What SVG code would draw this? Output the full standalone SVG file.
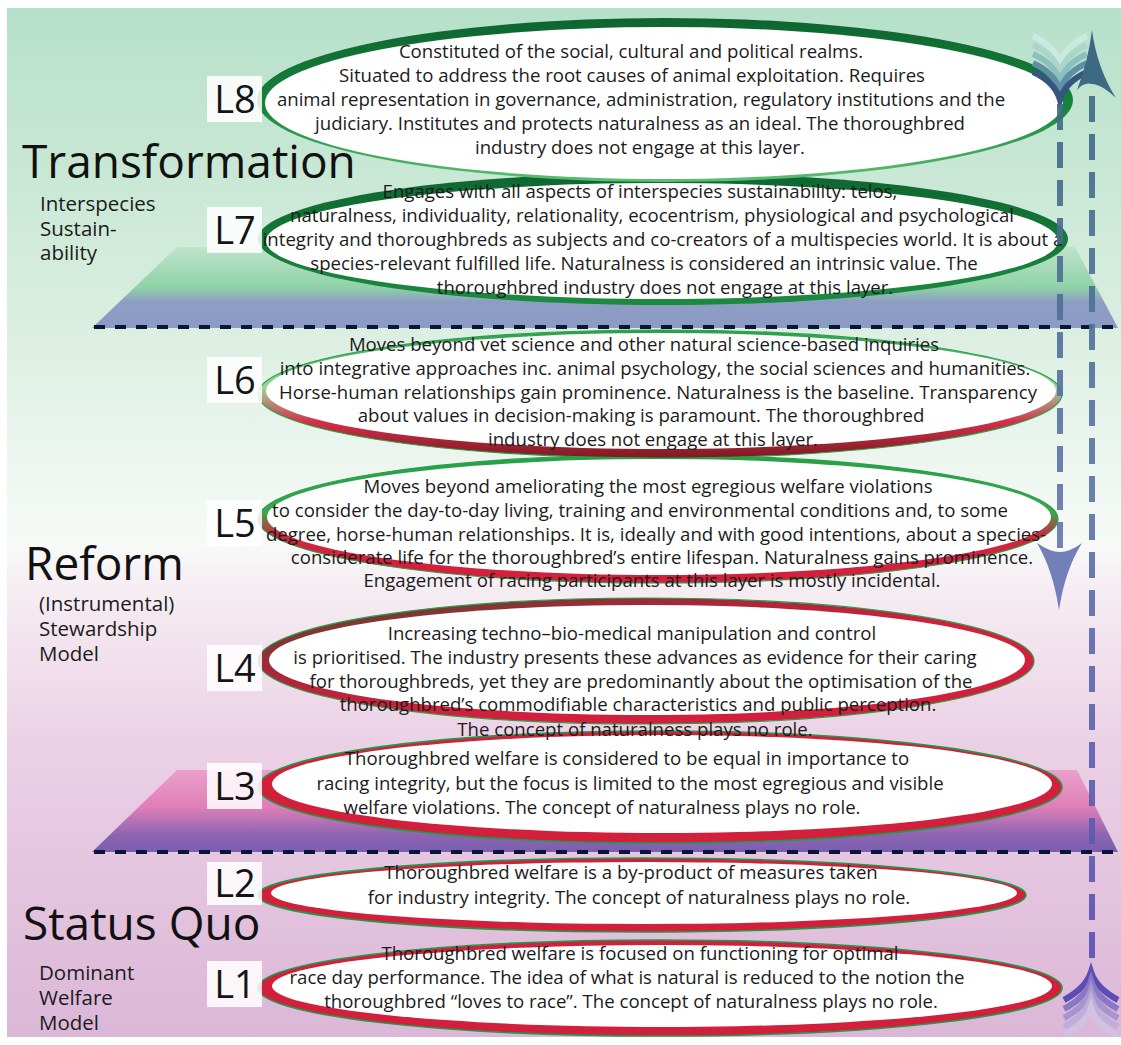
<svg xmlns="http://www.w3.org/2000/svg" width="1121" height="1045" viewBox="0 0 1121 1045">
  <defs>
    <linearGradient id="bg" x1="0" y1="8" x2="0" y2="1037" gradientUnits="userSpaceOnUse">
      <stop offset="0" stop-color="#b6e0c9"/>
      <stop offset="0.3" stop-color="#d9eee0"/>
      <stop offset="0.52" stop-color="#f7faf7"/>
      <stop offset="0.56" stop-color="#f6eef3"/>
      <stop offset="0.72" stop-color="#ebd0e5"/>
      <stop offset="1" stop-color="#dbb7d7"/>
    </linearGradient>
    <linearGradient id="platTop" x1="0" y1="247" x2="0" y2="328" gradientUnits="userSpaceOnUse">
      <stop offset="0" stop-color="#bfe3cc"/>
      <stop offset="0.5" stop-color="#8fd2a7"/>
      <stop offset="0.68" stop-color="#8d9dc4"/>
      <stop offset="1" stop-color="#8c9bc4"/>
    </linearGradient>
    <linearGradient id="platBot" x1="0" y1="770" x2="0" y2="852" gradientUnits="userSpaceOnUse">
      <stop offset="0" stop-color="#eaa0cb"/>
      <stop offset="0.45" stop-color="#e07fb8"/>
      <stop offset="0.8" stop-color="#8c64b2"/>
      <stop offset="1" stop-color="#7a5fb0"/>
    </linearGradient>
    <linearGradient id="gL8" x1="0" y1="0" x2="0" y2="1">
      <stop offset="0" stop-color="#0e6430"/>
      <stop offset="0.55" stop-color="#17843c"/>
      <stop offset="1" stop-color="#5cbf73"/>
    </linearGradient>
    <linearGradient id="gL7" x1="0" y1="0" x2="0" y2="1">
      <stop offset="0" stop-color="#0f6631"/>
      <stop offset="1" stop-color="#1b8a40"/>
    </linearGradient>
    <linearGradient id="gL6" x1="0" y1="0" x2="0" y2="1">
      <stop offset="0" stop-color="#2a9d48"/>
      <stop offset="0.45" stop-color="#9cd59c"/>
      <stop offset="0.72" stop-color="#d2304a"/>
      <stop offset="1" stop-color="#7c1a22"/>
    </linearGradient>
    <linearGradient id="gL5" x1="0" y1="0" x2="0" y2="1">
      <stop offset="0" stop-color="#26a046"/>
      <stop offset="0.45" stop-color="#3aa64c"/>
      <stop offset="0.62" stop-color="#d2263f"/>
      <stop offset="1" stop-color="#d21f3c"/>
    </linearGradient>
    <linearGradient id="gL4" x1="0" y1="0" x2="1" y2="1">
      <stop offset="0" stop-color="#4f4a2c"/>
      <stop offset="0.3" stop-color="#a5283a"/>
      <stop offset="0.55" stop-color="#d21f3c"/>
      <stop offset="1" stop-color="#d21f3c"/>
    </linearGradient>
    <linearGradient id="upLine" x1="0" y1="95" x2="0" y2="965" gradientUnits="userSpaceOnUse">
      <stop offset="0" stop-color="#3f6b84"/>
      <stop offset="0.45" stop-color="#5b75a6"/>
      <stop offset="1" stop-color="#5b4fb5"/>
    </linearGradient>
    <linearGradient id="downLine" x1="0" y1="100" x2="0" y2="610" gradientUnits="userSpaceOnUse">
      <stop offset="0" stop-color="#3d6a82"/>
      <stop offset="1" stop-color="#6a78b4"/>
    </linearGradient>
    <style>
      .t { font-family: "Open Sans", "Noto Sans", sans-serif; font-size: 18.6px; fill: #1b1b1b; text-anchor: middle; }
      .title { font-family: "Open Sans", "Noto Sans", sans-serif; font-size: 46px; fill: #111; }
      .sub { font-family: "Open Sans", "Noto Sans", sans-serif; font-size: 20.5px; fill: #1b1b1b; }
      .lab { font-family: "Open Sans", "Noto Sans", sans-serif; font-size: 38px; fill: #141414; text-anchor: middle; }
      .labbox { fill: #ffffff; fill-opacity: 0.86; }
      .inner { fill: #ffffff; }
      .redrim { fill: #d21f3c; stroke: #1f9a4a; stroke-width: 1.6; }
      .rim { stroke: #2aa04c; stroke-width: 1.2; }
      .sep { stroke: #0b1535; stroke-width: 4; stroke-dasharray: 11 10; fill: none; }
    </style>
  </defs>

  <!-- backdrop -->
  <rect x="0" y="0" width="1121" height="1045" fill="#ffffff"/>
  <rect x="7" y="8" width="1114" height="1029" fill="url(#bg)"/>

  <!-- platforms and layer boundaries -->
  <g id="platforms">
    <polygon points="177,247 1075,247 1118,328 92,328" fill="url(#platTop)"/>
    <polygon points="177,770 1077,770 1118,852 92,852" fill="url(#platBot)"/>
    <line class="sep" x1="94" y1="327" x2="1121" y2="327"/>
    <line class="sep" x1="94" y1="852" x2="1121" y2="852"/>
  </g>

  <!-- section headings -->
  <g id="transformation">
    <text class="title" x="22" y="178">Transformation</text>
    <text class="sub" x="40" y="211">Interspecies</text>
    <text class="sub" x="40" y="236">Sustain-</text>
    <text class="sub" x="40" y="260">ability</text>
  </g>
  <g id="reform">
    <text class="title" x="25" y="580">Reform</text>
    <text class="sub" x="39" y="611">(Instrumental)</text>
    <text class="sub" x="39" y="636">Stewardship</text>
    <text class="sub" x="39" y="661">Model</text>
  </g>
  <g id="status-quo">
    <text class="title" x="23" y="940">Status Quo</text>
    <text class="sub" x="39" y="980">Dominant</text>
    <text class="sub" x="39" y="1005">Welfare</text>
    <text class="sub" x="39" y="1030">Model</text>
  </g>

  <!-- layers, drawn bottom-up so each layer's text sits above the ring below it -->
  <g id="L1">
    <ellipse class="redrim" cx="660" cy="988" rx="402" ry="48"/>
    <ellipse class="inner" cx="662" cy="986" rx="390" ry="41"/>
    <rect class="labbox" x="207" y="961" width="55" height="46"/>
    <text class="lab" x="235" y="998">L1</text>
    <text class="t" x="640" y="960">Thoroughbred welfare is focused on functioning for optimal</text>
    <text class="t" x="627" y="984">race day performance. The idea of what is natural is reduced to the notion the</text>
    <text class="t" x="631" y="1008">thoroughbred “loves to race”. The concept of naturalness plays no role.</text>
  </g>

  <g id="L2">
    <ellipse class="redrim" cx="642" cy="895" rx="384" ry="37"/>
    <ellipse class="inner" cx="644" cy="893" rx="373" ry="31"/>
    <rect class="labbox" x="207" y="862" width="55" height="43"/>
    <text class="lab" x="235" y="897">L2</text>
    <text class="t" x="631" y="879">Thoroughbred welfare is a by-product of measures taken</text>
    <text class="t" x="639" y="904">for industry integrity. The concept of naturalness plays no role.</text>
  </g>

  <g id="L3">
    <ellipse class="redrim" cx="660" cy="787" rx="402" ry="56"/>
    <ellipse class="inner" cx="662" cy="784" rx="390" ry="49"/>
    <rect class="labbox" x="207" y="763" width="55" height="46"/>
    <text class="lab" x="235" y="800">L3</text>
    <text class="t" x="627" y="765">Thoroughbred welfare is considered to be equal in importance to</text>
    <text class="t" x="630" y="790">racing integrity, but the focus is limited to the most egregious and visible</text>
    <text class="t" x="602" y="814">welfare violations. The concept of naturalness plays no role.</text>
  </g>

  <g id="L4">
    <ellipse class="rim" cx="646" cy="661" rx="388" ry="63" fill="url(#gL4)"/>
    <ellipse class="inner" cx="647" cy="660" rx="378" ry="55"/>
    <rect class="labbox" x="207" y="645" width="55" height="46"/>
    <text class="lab" x="235" y="682">L4</text>
    <text class="t" x="632" y="640">Increasing techno–bio-medical manipulation and control</text>
    <text class="t" x="635" y="664">is prioritised. The industry presents these advances as evidence for their caring</text>
    <text class="t" x="641" y="688">for thoroughbreds, yet they are predominantly about the optimisation of the</text>
    <text class="t" x="638" y="711">thoroughbred’s commodifiable characteristics and public perception.</text>
    <text class="t" x="635" y="736">The concept of naturalness plays no role.</text>
  </g>

  <g id="L5">
    <ellipse class="rim" cx="658" cy="519" rx="400" ry="64" fill="url(#gL5)"/>
    <ellipse class="inner" cx="659" cy="517" rx="392" ry="58"/>
    <rect class="labbox" x="207" y="500" width="55" height="46"/>
    <text class="lab" x="235" y="537">L5</text>
    <text class="t" x="648" y="493">Moves beyond ameliorating the most egregious welfare violations</text>
    <text class="t" x="640" y="517">to consider the day-to-day living, training and environmental conditions and, to some</text>
    <text class="t" x="656" y="541">degree, horse-human relationships. It is, ideally and with good intentions, about a species-</text>
    <text class="t" x="662" y="564">considerate life for the thoroughbred’s entire lifespan. Naturalness gains prominence.</text>
    <text class="t" x="652" y="587">Engagement of racing participants at this layer is mostly incidental.</text>
  </g>

  <g id="L6">
    <ellipse class="rim" cx="660" cy="394" rx="402" ry="64" fill="url(#gL6)"/>
    <ellipse class="inner" cx="661" cy="391" rx="395" ry="58"/>
    <rect class="labbox" x="207" y="357" width="55" height="46"/>
    <text class="lab" x="235" y="394">L6</text>
    <text class="t" x="644" y="351">Moves beyond vet science and other natural science-based inquiries</text>
    <text class="t" x="655" y="375">into integrative approaches inc. animal psychology, the social sciences and humanities.</text>
    <text class="t" x="658" y="399">Horse-human relationships gain prominence. Naturalness is the baseline. Transparency</text>
    <text class="t" x="641" y="422">about values in decision-making is paramount. The thoroughbred</text>
    <text class="t" x="653" y="446">industry does not engage at this layer.</text>
  </g>

  <g id="L7">
    <ellipse cx="663" cy="239" rx="405" ry="66" fill="url(#gL7)"/>
    <ellipse class="inner" cx="662" cy="241" rx="396" ry="58"/>
    <rect class="labbox" x="207" y="207" width="55" height="46"/>
    <text class="lab" x="235" y="244">L7</text>
    <text class="t" x="640" y="198">Engages with all aspects of interspecies sustainability: telos,</text>
    <text class="t" x="652" y="222">naturalness, individuality, relationality, ecocentrism, physiological and psychological</text>
    <text class="t" x="663" y="246">integrity and thoroughbreds as subjects and co-creators of a multispecies world. It is about a</text>
    <text class="t" x="644" y="270">species-relevant fulfilled life. Naturalness is considered an intrinsic value. The</text>
    <text class="t" x="665" y="294">thoroughbred industry does not engage at this layer.</text>
  </g>

  <g id="L8">
    <ellipse cx="665" cy="100" rx="408" ry="82" fill="url(#gL8)"/>
    <ellipse class="inner" cx="664" cy="103" rx="399" ry="76"/>
    <rect class="labbox" x="207" y="76" width="55" height="46"/>
    <text class="lab" x="235" y="113">L8</text>
    <text class="t" x="631" y="58">Constituted of the social, cultural and political realms.</text>
    <text class="t" x="632" y="82">Situated to address the root causes of animal exploitation. Requires</text>
    <text class="t" x="641" y="106">animal representation in governance, administration, regulatory institutions and the</text>
    <text class="t" x="640" y="130">judiciary. Institutes and protects naturalness as an ideal. The thoroughbred</text>
    <text class="t" x="640" y="154">industry does not engage at this layer.</text>
  </g>

  <!-- direction arrows on the right -->
  <g id="connectors">
    <!-- downward arrow: fletching at the top, head at the reform layer -->
    <g fill="none" stroke-width="6" stroke-linecap="butt">
      <path d="M1033,36 Q1055,46 1060,64 Q1065,46 1087,36" stroke="#cde9df"/>
      <path d="M1033,45 Q1055,55 1060,73 Q1065,55 1087,45" stroke="#acd6cb"/>
      <path d="M1033,54 Q1055,64 1060,82 Q1065,64 1087,54" stroke="#8cbfbd"/>
      <path d="M1033,63 Q1055,73 1060,91 Q1065,73 1087,63" stroke="#5f90a6"/>
      <path d="M1033,72 Q1055,82 1060,100 Q1065,82 1087,72" stroke="#36557f"/>
    </g>
    <line x1="1060" y1="104" x2="1060" y2="548" stroke="url(#downLine)" stroke-width="6" stroke-dasharray="26 12" opacity="0.9"/>
    <path d="M1037,543 Q1050,552 1060,552 Q1070,552 1082,543 Q1065,570 1059,610 Q1053,570 1037,543 Z" fill="#6a78b4" opacity="0.95"/>

    <!-- upward arrow: fletching at the bottom, head at the top -->
    <line x1="1092" y1="96" x2="1092" y2="964" stroke="url(#upLine)" stroke-width="6" stroke-dasharray="26 12" opacity="0.9"/>
    <path d="M1092,30 Q1097,68 1116,98 Q1101,84 1092,84 Q1084,82 1077,90 Q1088,62 1092,30 Z" fill="#3d6a82"/>
    <g fill="none" stroke-width="6">
      <path d="M1064,1000 Q1086,988 1091,972 Q1096,988 1118,1000" stroke="#5c4db4"/>
      <path d="M1064,1009 Q1086,997 1091,981 Q1096,997 1118,1009" stroke="#8a78c4"/>
      <path d="M1064,1018 Q1086,1006 1091,990 Q1096,1006 1118,1018" stroke="#a795cf"/>
      <path d="M1064,1027 Q1086,1015 1091,999 Q1096,1015 1118,1027" stroke="#bfaed9"/>
      <path d="M1064,1036 Q1086,1024 1091,1008 Q1096,1024 1118,1036" stroke="#d2c2e2"/>
    </g>
    <rect x="1060" y="1037" width="61" height="8" fill="#ffffff"/>
  </g>
</svg>
